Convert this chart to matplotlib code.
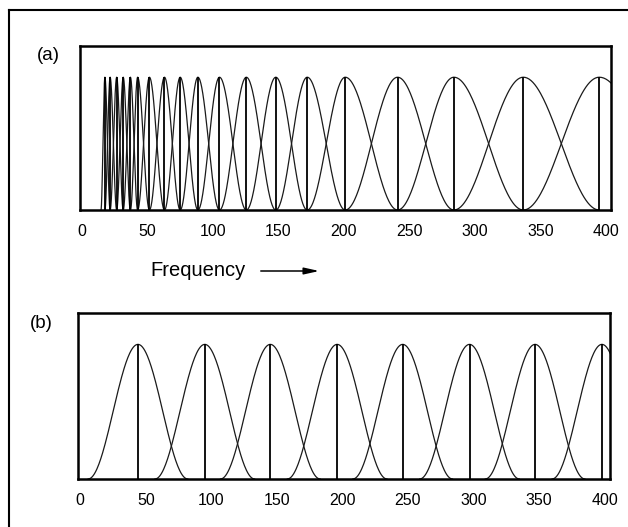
import matplotlib.pyplot as plt
import numpy as np

plt.rcParams['font.family'] = ['Liberation Sans', 'DejaVu Sans']

# filter centre frequencies
centers_a = [17.5, 21.5, 26.5, 31.5, 37, 42.5, 51.5, 63, 75, 88.5, 105,
             125.5, 148, 172, 201, 241, 284, 337, 395]
edge_lo_a = 14.5   # left foot of the first filter
edge_hi_a = 462    # right foot of the last filter (outside the frame)

centers_b = [44, 95, 145, 196, 246, 297, 347, 398]
halfwidth_b = 38

ticks = [0, 50, 100, 150, 200, 250, 300, 350, 400]
tick_labels = [str(t) for t in ticks]


def hann_piece(lo, c, hi, n=80):
    # raised cosine rising from lo to c and falling from c to hi
    x1 = np.linspace(lo, c, n)
    y1 = 0.5 * (1 - np.cos(np.pi * (x1 - lo) / (c - lo)))
    x2 = np.linspace(c, hi, n)
    y2 = 0.5 * (1 + np.cos(np.pi * (x2 - c) / (hi - c)))
    return np.concatenate([x1, x2]), np.concatenate([y1, y2])


def style(ax):
    ax.set_xlim(-1.5, 404)
    ax.set_ylim(0, 1.235)
    ax.set_xticks(ticks)
    ax.set_xticklabels(tick_labels, fontsize=11.5)
    ax.tick_params(axis='x', length=0, pad=10)
    ax.set_yticks([])
    for s in ax.spines.values():
        s.set_linewidth(1.8)
        s.set_color('black')


fig = plt.figure(figsize=(6.28, 5.27), dpi=100)

# (a) log spaced bank
ax1 = fig.add_axes([0.1274, 0.6015, 0.973 - 0.1274, 0.9127 - 0.6015])
edges = [edge_lo_a] + centers_a + [edge_hi_a]
for k in range(1, len(edges) - 1):
    x, y = hann_piece(edges[k - 1], edges[k], edges[k + 1])
    ax1.plot(x, y, color='#1a1a1a', lw=0.9)
ax1.vlines(centers_a, 0, 1, color='black', lw=1.3)
style(ax1)

# (b) uniformly spaced bank
ax2 = fig.add_axes([0.1247, 0.0911, 0.971 - 0.1247, 0.4066 - 0.0911])
for c in centers_b:
    x, y = hann_piece(c - halfwidth_b, c, c + halfwidth_b)
    ax2.plot(x, y, color='#1a1a1a', lw=0.9)
ax2.vlines(centers_b, 0, 1, color='black', lw=1.3)
style(ax2)

fig.text(48 / 628, 1 - 56 / 527, '(a)', fontsize=13.5, ha='center', va='center')
fig.text(41 / 628, 1 - 323 / 527, '(b)', fontsize=13.5, ha='center', va='center')
fig.text(150 / 628, 1 - 271 / 527, 'Frequency', fontsize=14.5, ha='left', va='center')
ax1.annotate('', xy=(322 / 628, 1 - 271 / 527), xytext=(258 / 628, 1 - 271 / 527),
             xycoords='figure fraction', textcoords='figure fraction',
             arrowprops=dict(arrowstyle='-|>,head_length=0.9,head_width=0.2',
                             color='black', lw=1.1))

# page border lines from the scan
fig.add_artist(plt.Line2D([9 / 628, 9 / 628], [0, 1 - 10 / 527],
                          transform=fig.transFigure, color='black', lw=1.5))
fig.add_artist(plt.Line2D([9 / 628, 1], [1 - 10 / 527, 1 - 10 / 527],
                          transform=fig.transFigure, color='black', lw=1.5))

fig.savefig('out.png', dpi=100)
